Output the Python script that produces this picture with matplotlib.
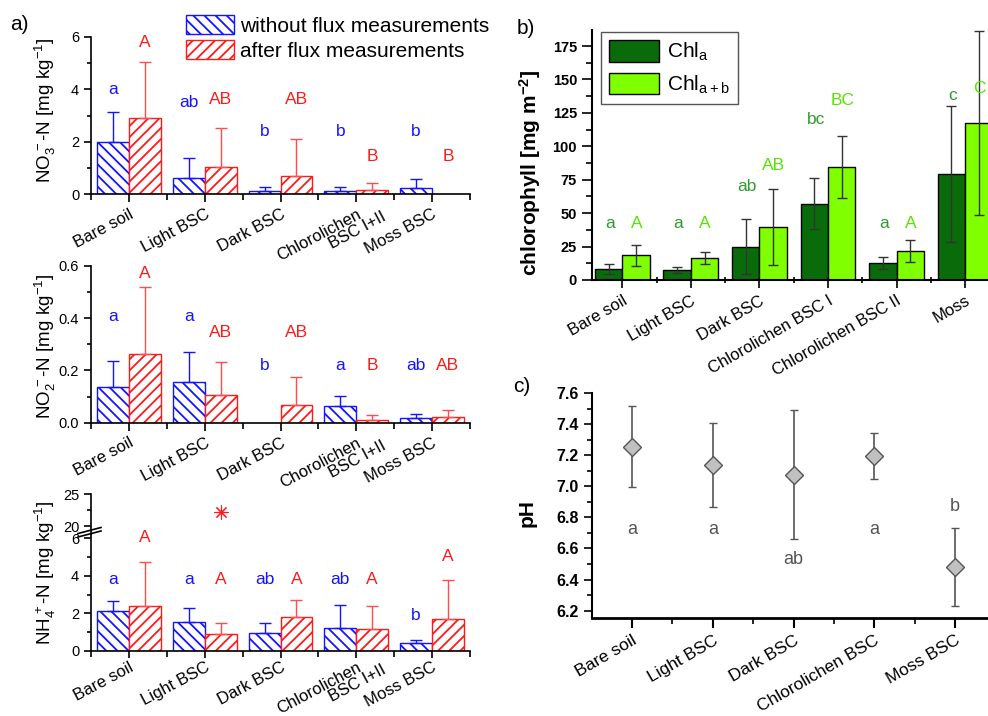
import numpy as np
import matplotlib
matplotlib.use("Agg")
import matplotlib.pyplot as plt
from matplotlib.ticker import MultipleLocator, FormatStrFormatter
from matplotlib.lines import Line2D

plt.rcParams['font.family'] = ['Liberation Sans', 'DejaVu Sans']
plt.rcParams['mathtext.fontset'] = 'custom'
plt.rcParams['mathtext.rm'] = 'Liberation Sans'
plt.rcParams['mathtext.it'] = 'Liberation Sans:italic'
plt.rcParams['mathtext.bf'] = 'Liberation Sans:bold'
plt.rcParams['hatch.linewidth'] = 1.3

# ---- panel a data ----
cats_a = ["Bare soil", "Light BSC", "Dark BSC", "Chlorolichen", "Moss BSC"]
cats_a_mid = ["Bare soil", "Light BSC", "Dark BSC", "Chorolichen", "Moss BSC"]
second_line = "BSC I+II"

no3_without = [2.0, 0.63, 0.13, 0.13, 0.22]
no3_without_err = [1.15, 0.73, 0.12, 0.12, 0.36]
no3_after = [2.92, 1.02, 0.70, 0.15, np.nan]
no3_after_err = [2.13, 1.52, 1.40, 0.28, np.nan]
no3_let_without = ["a", "ab", "b", "b", "b"]
no3_let_without_y = [4.0, 3.5, 2.4, 2.4, 2.4]
no3_let_after = ["A", "AB", "AB", "B", "B"]
no3_let_after_y = [5.8, 3.6, 3.6, 1.45, 1.45]

no2_without = [0.135, 0.155, np.nan, 0.062, 0.017]
no2_without_err = [0.10, 0.115, np.nan, 0.041, 0.018]
no2_after = [0.263, 0.107, 0.067, 0.010, 0.022]
no2_after_err = [0.257, 0.125, 0.106, 0.02, 0.028]
no2_let_without = ["a", "a", "b", "a", "ab"]
no2_let_without_y = [0.405, 0.405, 0.218, 0.218, 0.218]
no2_let_after = ["A", "AB", "AB", "B", "AB"]
no2_let_after_y = [0.57, 0.345, 0.345, 0.218, 0.218]

nh4_without = [2.15, 1.52, 0.98, 1.2, 0.42]
nh4_without_err = [0.5, 0.78, 0.49, 1.22, 0.14]
nh4_after = [2.4, 0.92, 1.78, 1.18, 1.7]
nh4_after_err = [2.35, 0.58, 0.92, 1.2, 2.06]
nh4_outlier_cat = 2
nh4_outlier = 22.2
nh4_let_without = ["a", "a", "ab", "ab", "b"]
nh4_let_without_y = [3.8, 3.8, 3.8, 3.8, 1.88]
nh4_let_after = ["A", "A", "A", "A", "A"]
nh4_let_after_y = [6.05, 3.8, 3.8, 3.8, 5.0]

# ---- panel b data ----
cats_b = ["Bare soil", "Light BSC", "Dark BSC", "Chlorolichen BSC I", "Chlorolichen BSC II", "Moss"]
chl_a = [8.3, 7.2, 25.0, 57.0, 12.7, 79.5]
chl_a_err = [3.7, 2.2, 20.7, 19.0, 4.6, 51.0]
chl_ab = [18.5, 16.3, 39.7, 84.3, 21.8, 117.5]
chl_ab_err = [8.0, 4.5, 28.5, 23.2, 8.3, 69.0]
chl_let_a = ["a", "a", "ab", "bc", "a", "c"]
chl_let_a_y = [42, 42, 70, 120, 42, 138]
chl_let_ab = ["A", "A", "AB", "BC", "A", "C"]
chl_let_ab_y = [42, 42, 85.5, 134.6, 42, 143.6]

# ---- panel c data ----
cats_c = ["Bare soil", "Light BSC", "Dark BSC", "Chlorolichen BSC", "Moss BSC"]
ph = [7.255, 7.14, 7.075, 7.195, 6.48]
ph_err = [0.26, 0.27, 0.415, 0.15, 0.25]
ph_let = ["a", "a", "ab", "a", "b"]
ph_let_y = [6.72, 6.72, 6.53, 6.72, 6.87]

BLUE = "#1414ff"
RED = "#ff1a1a"
W, H = 988, 716
XLAB = 12
ROT_A = 28

fig = plt.figure(figsize=(W / 100, H / 100), dpi=100)


def px_axes(left, top, right, bottom):
    return fig.add_axes([left / W, 1 - bottom / H, (right - left) / W, (bottom - top) / H])


def style_a(ax, labels, ticklen=6, pad=3):
    x = np.arange(1, len(labels) + 1)
    ax.set_xlim(0.5, len(labels) + 0.5)
    ax.spines['top'].set_visible(False)
    ax.spines['right'].set_visible(False)
    for s in ['left', 'bottom']:
        ax.spines[s].set_linewidth(1.2)
    ax.set_xticks(x)
    ax.set_xticks(np.arange(0.5, len(labels) + 1), minor=True)
    ax.set_xticklabels(labels, rotation=ROT_A, ha='right', rotation_mode='anchor', fontsize=XLAB)
    ax.tick_params(axis='x', which='major', direction='out', length=ticklen, width=1.2, pad=pad)
    ax.tick_params(axis='x', which='minor', direction='out', length=4, width=1.2)
    ax.tick_params(axis='y', which='major', direction='out', length=5, width=1.2, labelsize=10.5)
    ax.tick_params(axis='y', which='minor', direction='out', length=3, width=1.2)
    # second line of the chlorolichen label
    ax.annotate(second_line, xy=(4, 0), xycoords=('data', 'axes fraction'),
                xytext=(18, -(ticklen + pad) - 2), textcoords='offset points', rotation=ROT_A,
                ha='right', va='top', rotation_mode='anchor', fontsize=XLAB)


def bars_a(ax, without, without_err, after, after_err, w=0.42):
    x = np.arange(1, len(without) + 1)
    h1 = ax.bar(x - w / 2, without, w, color='white', edgecolor=BLUE, hatch='\\\\\\', lw=1)
    h2 = ax.bar(x + w / 2, after, w, color='white', edgecolor=RED, hatch='///', lw=1)
    z = np.zeros(len(x))
    ax.errorbar(x - w / 2, without, yerr=[z, without_err], fmt='none', ecolor=BLUE,
                elinewidth=1, capsize=4, capthick=1)
    ax.errorbar(x + w / 2, after, yerr=[z, after_err], fmt='none', ecolor="#ff4d4d",
                elinewidth=1, capsize=4, capthick=1)
    return h1, h2


def letters(ax, xs, labels, ys, color, size=12.5):
    for xi, t, yi in zip(xs, labels, ys):
        ax.text(xi, yi, t, color=color, fontsize=size, ha='center', va='center')


xa = np.arange(1, 6)

# top: NO3
ax1 = px_axes(91, 37, 470, 194)
h1, h2 = bars_a(ax1, no3_without, no3_without_err, no3_after, no3_after_err)
ax1.set_ylim(0, 6)
ax1.yaxis.set_major_locator(MultipleLocator(2))
ax1.yaxis.set_minor_locator(MultipleLocator(1))
style_a(ax1, cats_a)
letters(ax1, xa - 0.21, no3_let_without, no3_let_without_y, BLUE)
letters(ax1, xa + 0.21, no3_let_after, no3_let_after_y, RED)

# middle: NO2
ax2 = px_axes(91, 265.7, 470, 422.7)
bars_a(ax2, no2_without, no2_without_err, no2_after, no2_after_err)
ax2.set_ylim(0, 0.6)
ax2.yaxis.set_major_locator(MultipleLocator(0.2))
ax2.yaxis.set_minor_locator(MultipleLocator(0.1))
ax2.yaxis.set_major_formatter(FormatStrFormatter('%.1f'))
style_a(ax2, cats_a_mid)
letters(ax2, xa - 0.21, no2_let_without, no2_let_without_y, BLUE)
letters(ax2, xa + 0.21, no2_let_after, no2_let_after_y, RED)

# bottom: NH4 with broken axis
ax3 = px_axes(91, 534.3, 470, 651)
bars_a(ax3, nh4_without, nh4_without_err, nh4_after, nh4_after_err)
ax3.set_ylim(0, 6.2)
ax3.yaxis.set_major_locator(MultipleLocator(2))
ax3.yaxis.set_minor_locator(MultipleLocator(1))
style_a(ax3, cats_a, ticklen=5, pad=1)
letters(ax3, xa - 0.21, nh4_let_without, nh4_let_without_y, BLUE)
letters(ax3, xa + 0.21, nh4_let_after, nh4_let_after_y, RED)

ax3u = px_axes(91, 494.3, 470, 534.3)
ax3u.patch.set_alpha(0)
ax3u.set_xlim(0.5, 5.5)
ax3u.set_ylim(18.7, 25)
ax3u.plot(nh4_outlier_cat + 0.21, nh4_outlier, marker=(8, 2, 0), ms=10, mew=0.8, color=RED, ls='none')
for s in ['top', 'right', 'bottom']:
    ax3u.spines[s].set_visible(False)
ax3u.spines['left'].set_linewidth(1.2)
ax3u.set_xticks([])
ax3u.yaxis.set_major_locator(MultipleLocator(5))
ax3u.yaxis.set_minor_locator(MultipleLocator(2.5))
ax3u.tick_params(axis='y', which='major', direction='out', length=5, width=1.2, labelsize=10.5)
ax3u.tick_params(axis='y', which='minor', direction='out', length=3, width=1.2)

# break marks
for dy in (0, 3.5):
    fig.add_artist(Line2D([78 / W, 101 / W], [1 - (537 + dy - 3.5) / H, 1 - (531 + dy - 3.5) / H],
                          color='black', lw=1.2, transform=fig.transFigure))

ylab_a = dict(rotation=90, ha='center', va='center', fontsize=13.5)
fig.text(45 / W, 1 - 110 / H, r"NO$_3^{\,-}$-N [mg kg$^{-1}$]", **ylab_a)
fig.text(45 / W, 1 - 346 / H, r"NO$_2^{\,-}$-N [mg kg$^{-1}$]", **ylab_a)
fig.text(45 / W, 1 - 573 / H, r"NH$_4^{\,+}$-N [mg kg$^{-1}$]", **ylab_a)

fig.legend([h1, h2], ["without flux measurements", "after flux measurements"], loc='upper left',
           bbox_to_anchor=(186 / W, 1 - 15 / H), frameon=False, fontsize=15, handlelength=2.3,
           handleheight=1.05, handletextpad=0.3, labelspacing=0.2, borderpad=0, borderaxespad=0)

fig.text(10 / W, 1 - 24 / H, "a)", fontsize=15, ha='left', va='center')

# ---- panel b ----
axb = px_axes(591.7, 30, 591.7 + 442, 280)
xb = np.arange(1, len(cats_b) + 1)
wb = 0.4
b1 = axb.bar(xb - wb / 2, chl_a, wb, color="#0a6b0a", edgecolor='black', lw=1, label=r"Chl$_\mathrm{a}$")
b2 = axb.bar(xb + wb / 2, chl_ab, wb, color="#80ff00", edgecolor='black', lw=1, label=r"Chl$_\mathrm{a+b}$")
axb.errorbar(xb - wb / 2, chl_a, yerr=chl_a_err, fmt='none', ecolor='#333333', elinewidth=1, capsize=3.5)
axb.errorbar(xb + wb / 2, chl_ab, yerr=chl_ab_err, fmt='none', ecolor='#333333', elinewidth=1, capsize=3.5)
letters(axb, xb - 0.18, chl_let_a, chl_let_a_y, "#2f9a2f")
letters(axb, xb + 0.21, chl_let_ab, chl_let_ab_y, "#55e600")
axb.set_xlim(0.554, 7.0)
axb.set_ylim(0, 187)
axb.spines['top'].set_visible(False)
axb.spines['right'].set_visible(False)
for s in ['left', 'bottom']:
    axb.spines[s].set_linewidth(1.5)
axb.yaxis.set_major_locator(MultipleLocator(25))
axb.yaxis.set_minor_locator(MultipleLocator(12.5))
axb.set_xticks(xb)
axb.set_xticks(np.arange(1.5, len(cats_b) + 1), minor=True)
axb.set_xticklabels(cats_b, rotation=30, ha='right', rotation_mode='anchor', fontsize=XLAB)
axb.tick_params(axis='x', which='major', direction='out', length=6, width=1.2)
axb.tick_params(axis='x', which='minor', direction='inout', length=5, width=1.2)
axb.tick_params(axis='y', which='major', direction='out', length=7, width=1.2, labelsize=10.5)
axb.tick_params(axis='y', which='minor', direction='out', length=4, width=1.2)
for lab in axb.get_yticklabels():
    lab.set_fontweight('bold')
fig.legend(handles=[b1, b2], loc='upper left', bbox_to_anchor=(601 / W, 1 - 32 / H), fontsize=15,
           fancybox=False, edgecolor='#555555', framealpha=1, handlelength=2.4, handleheight=1.2,
           handletextpad=0.35, borderpad=0.4, labelspacing=0.45, borderaxespad=0)
fig.text(530 / W, 1 - 173 / H, r"chlorophyll [mg m$^{\mathbf{-2}}$]", rotation=90, ha='center', va='center',
         fontsize=15, fontweight='bold')
fig.text(517 / W, 1 - 28 / H, "b)", fontsize=15, ha='left', va='center')

# ---- panel c ----
axc = px_axes(591.7, 393.3, 591.7 + 444, 618.3)
xc = np.arange(1, len(cats_c) + 1)
axc.errorbar(xc, ph, yerr=ph_err, fmt='D', ms=9.5, mfc='#c0c0c0', mec='#555555', mew=1,
             ecolor='#555555', elinewidth=1.2, capsize=3, ls='none')
letters(axc, xc, ph_let, ph_let_y, "#555555", size=13)
axc.set_xlim(0.5, 6.0)
axc.set_ylim(6.15, 7.6)
axc.spines['top'].set_visible(False)
axc.spines['right'].set_visible(False)
axc.spines['left'].set_linewidth(1.5)
axc.spines['bottom'].set_linewidth(2)
axc.yaxis.set_major_locator(MultipleLocator(0.2))
axc.yaxis.set_minor_locator(MultipleLocator(0.1))
axc.yaxis.set_major_formatter(FormatStrFormatter('%.1f'))
axc.set_xticks(xc)
axc.set_xticks(np.arange(1.5, len(cats_c) + 1), minor=True)
axc.set_xticklabels(cats_c, rotation=30, ha='right', rotation_mode='anchor', fontsize=12.5)
axc.tick_params(axis='x', which='major', direction='out', length=7, width=1.5)
axc.tick_params(axis='x', which='minor', direction='out', length=4, width=1.2)
axc.tick_params(axis='y', which='major', direction='out', length=6, width=1.2, labelsize=11.5)
axc.tick_params(axis='y', which='minor', direction='out', length=3.5, width=1.2)
for lab in axc.get_yticklabels():
    lab.set_fontweight('bold')
fig.text(527 / W, 1 - 513 / H, "pH", rotation=90, ha='center', va='center', fontsize=15, fontweight='bold')
fig.text(513 / W, 1 - 386 / H, "c)", fontsize=15, ha='left', va='center')

fig.savefig("out.png", dpi=100)
